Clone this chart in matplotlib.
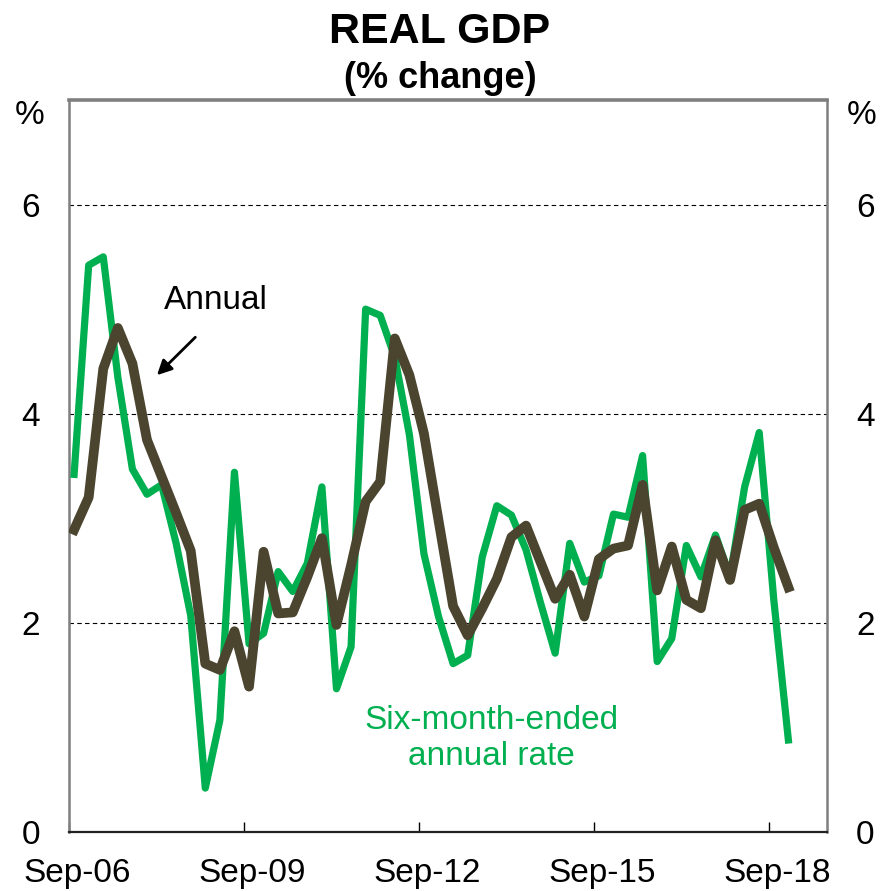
import matplotlib.pyplot as plt
import numpy as np

plt.rcParams['font.family'] = ['Liberation Sans', 'DejaVu Sans']

# quarterly real GDP growth, Sep-06 to Dec-18 (%)
six_month = [3.42, 5.42, 5.50, 4.35, 3.47, 3.23, 3.32, 2.76, 2.07, 0.42,
             1.07, 3.44, 1.80, 1.90, 2.49, 2.30, 2.57, 3.30, 1.37, 1.77,
             5.00, 4.94, 4.54, 3.80, 2.66, 2.06, 1.61, 1.69, 2.63, 3.12,
             3.03, 2.70, 2.19, 1.71, 2.76, 2.39, 2.45, 3.04, 3.01, 3.60,
             1.63, 1.85, 2.74, 2.44, 2.84, 2.44, 3.30, 3.82, 2.22, 0.88]
annual = [2.89, 3.20, 4.43, 4.82, 4.48, 3.75, 3.40, 3.05, 2.69, 1.61,
          1.55, 1.92, 1.39, 2.68, 2.09, 2.10, 2.44, 2.81, 1.98, 2.55,
          3.16, 3.35, 4.72, 4.37, 3.81, 2.98, 2.16, 1.88, 2.14, 2.42,
          2.82, 2.93, 2.58, 2.23, 2.46, 2.06, 2.61, 2.71, 2.74, 3.32,
          2.31, 2.73, 2.22, 2.14, 2.79, 2.41, 3.08, 3.14, 2.72, 2.34]
tick_labels = ['Sep-06', 'Sep-09', 'Sep-12', 'Sep-15', 'Sep-18']
y_ticks = [0, 2, 4, 6]

green = '#00B050'
brown = '#4B4530'

fig = plt.figure(figsize=(8.8, 8.91), dpi=100)
ax = fig.add_axes([69/880, 1-832/891, (827-69)/880, (832-100)/891])

x = np.arange(len(six_month)) + 0.35
ax.plot(x, six_month, color=green, lw=5.2, solid_joinstyle='round', zorder=3)
ax.plot(x, annual, color=brown, lw=7.0, solid_joinstyle='round', zorder=4)

ax.set_xlim(0, 52)
ax.set_ylim(0, 7)

# year ticks every 12 quarters, labels nudged right of the tick
major = np.arange(len(tick_labels)) * 12
ax.set_xticks(major)
ax.set_xticklabels([])
ax.set_xticks(major + 0.55, minor=True)
ax.set_xticklabels(tick_labels, minor=True)
ax.tick_params(axis='x', which='major', direction='in', length=7, width=1, color='black')
ax.tick_params(axis='x', which='minor', length=0, pad=19, labelsize=24)

ax.set_yticks(y_ticks)
ax.tick_params(axis='y', length=0, pad=21, labelsize=24, labelleft=True, labelright=True)

ax.grid(axis='y', color='black', lw=0.8, linestyle=(0, (4, 3)))
ax.set_axisbelow(True)

for side in ['left', 'right']:
    ax.spines[side].set_color('#7f7f7f')
    ax.spines[side].set_linewidth(1.8)
ax.spines['top'].set_color('#7f7f7f')
ax.spines['top'].set_linewidth(2.6)
ax.spines['bottom'].set_color('#222222')
ax.spines['bottom'].set_linewidth(1.6)

fig.text(30/880, 1-115/891, '%', ha='center', va='center', fontsize=24)
fig.text(862/880, 1-115/891, '%', ha='center', va='center', fontsize=24)

fig.text(0.5, 1-32/891, 'REAL GDP', ha='center', va='center', fontsize=31, fontweight='bold')
fig.text(0.5, 1-79/891, '(% change)', ha='center', va='center', fontsize=26, fontweight='bold')

ax.text(10.1, 5.08, 'Annual', ha='center', va='center', fontsize=24)
ax.annotate('', xy=(5.9, 4.35), xytext=(8.8, 4.75),
            arrowprops=dict(arrowstyle='-|>', color='black', lw=2, mutation_scale=22))
ax.text(29.0, 1.07, 'Six-month-ended', ha='center', va='center', fontsize=24, color=green)
ax.text(29.0, 0.72, 'annual rate', ha='center', va='center', fontsize=24, color=green)

fig.savefig('out.png', dpi=100)
